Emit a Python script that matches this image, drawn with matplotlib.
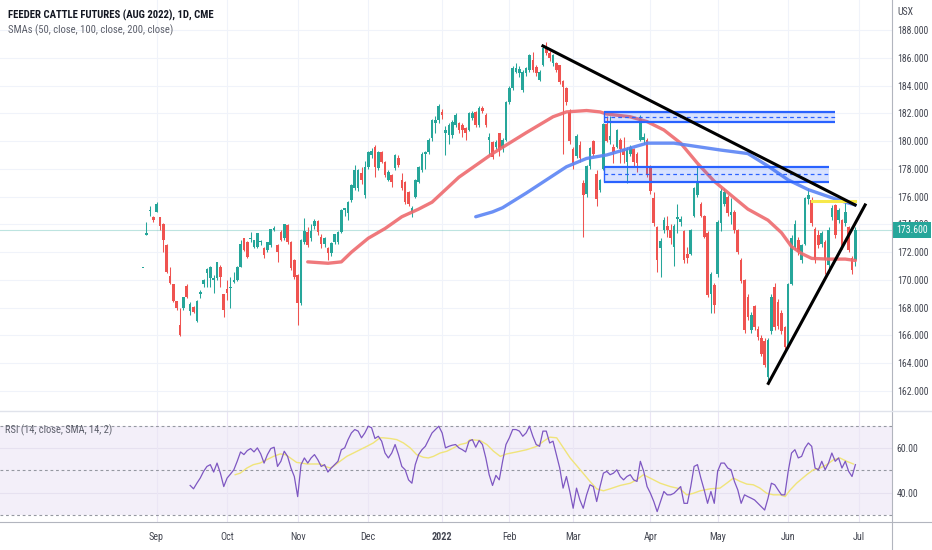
import numpy as np
import pandas as pd
import matplotlib
matplotlib.use('Agg')
import matplotlib.pyplot as plt
import matplotlib.transforms as mtransforms
from matplotlib.patches import Rectangle
from matplotlib.lines import Line2D
from matplotlib import font_manager

# pick a narrow face if one is installed (the chart uses a condensed font)
_fonts = font_manager.fontManager.ttflist
_names = {f.name for f in _fonts}
NARROW, STRETCH = None, 'normal'
for n in ['Liberation Sans Narrow', 'Roboto Condensed', 'Open Sans Condensed',
          'DejaVu Sans Condensed', 'Noto Sans Condensed']:
    if n in _names:
        NARROW = n
        break
if NARROW is None:
    cond = [f for f in _fonts if str(f.stretch) in ('condensed', 'semi-condensed')]
    if cond:
        NARROW, STRETCH = cond[0].name, cond[0].stretch
if NARROW is None:
    NARROW = 'Liberation Sans'
plt.rcParams['font.family'] = [NARROW, 'DejaVu Sans']
plt.rcParams['font.stretch'] = STRETCH

# trading days of the contract shown, CME holidays taken out
holidays = ['2021-09-06', '2021-11-25', '2021-12-24', '2022-01-17',
            '2022-02-21', '2022-04-15', '2022-05-30', '2022-06-20']
dates = pd.bdate_range('2021-08-26', '2022-06-30')
dates = dates[~dates.isin(pd.to_datetime(holidays))]

opens = [
    170.85, 173.25, 174.95, 174.55, 174.9, 174.5, 174.05, 172.5, 170.25, 169.7,
    168.5, 166.75, 167.95, 169.58, 167.78, 168.02, 167.03, 168.98, 169.68, 170.5,
    170.11, 170.0, 170.11, 170.95, 168.98, 169.34, 169.39, 169.87, 169.99, 170.95,
    172.99, 172.75, 172.92, 172.39, 172.39, 172.7, 172.27, 172.15, 172.51, 173.59,
    172.51, 173.47, 172.99, 173.95, 172.75, 171.43, 170.35, 168.31, 172.75, 173.47,
    172.99, 173.9, 174.24, 173.11, 172.58, 172.32, 171.91, 172.75, 172.75, 173.42,
    175.03, 174.79, 175.75, 176.59, 176.59, 177.68, 176.11, 178.15, 179.0, 179.6,
    178.03, 179.23, 178.5, 177.2, 177.55, 178.03, 178.75, 177.2, 177.07, 176.35,
    174.9, 175.99, 177.07, 177.91, 179.1, 179.23, 180.2, 181.3, 181.52, 182.07,
    180.6, 180.44, 180.44, 181.16, 181.28, 181.16, 180.92, 180.8, 181.64, 182.1,
    181.16, 182.4, 181.9, 180.1, 179.96, 179.6, 180.56, 179.48, 180.08, 182.84,
    183.8, 185.0, 184.88, 183.68, 184.88, 185.12, 185.84, 185.36, 184.4, 185.48,
    186.68, 186.32, 185.6, 185.6, 185.48, 184.3, 183.8, 182.1, 179.4, 178.9,
    179.7, 177.0, 176.2, 178.2, 180.0, 177.6, 176.5, 178.0, 181.2, 180.1,
    179.6, 179.6, 180.1, 179.4, 178.5, 179.1, 179.4, 179.1, 180.1, 180.1,
    180.1, 178.2, 175.9, 173.8, 172.3, 173.6, 173.9, 173.6, 172.4, 174.4,
    174.2, 173.5, 171.9, 171.9, 174.6, 176.1, 175.5, 174.6, 173.4, 169.0,
    169.6, 170.4, 174.1, 175.5, 176.0, 174.7, 174.9, 173.6, 171.4, 170.0,
    168.8, 166.4, 168.1, 166.5, 165.8, 165.6, 163.0, 166.3, 169.5, 168.4,
    167.6, 166.6, 165.2, 169.7, 172.4, 172.9, 171.4, 172.6, 175.8, 175.75,
    173.7, 173.2, 172.6, 172.75, 171.1, 174.55, 175.4, 174.3, 174.3, 174.1,
    173.8, 171.55, 171.4]
highs = [
    170.85, 174.15, 175.35, 174.6, 175.6, 174.5, 174.1, 172.6, 170.9, 169.7,
    168.5, 167.95, 168.8, 169.7, 168.43, 168.1, 168.55, 169.27, 170.1, 170.83,
    171.0, 170.35, 171.3, 171.1, 169.0, 169.99, 170.23, 170.6, 171.0, 172.87,
    173.0, 172.8, 173.47, 172.9, 173.4, 172.9, 172.4, 172.75, 173.7, 173.9,
    172.6, 173.6, 174.05, 174.0, 172.8, 171.5, 170.4, 172.95, 174.48, 173.8,
    174.0, 174.4, 174.3, 173.3, 173.1, 172.4, 172.7, 173.3, 173.5, 175.1,
    175.2, 175.7, 176.9, 178.3, 178.0, 178.1, 178.6, 179.3, 179.5, 179.7,
    179.3, 179.3, 178.6, 177.9, 177.6, 179.1, 179.0, 177.7, 177.1, 176.4,
    175.3, 177.3, 178.2, 179.2, 179.3, 180.2, 181.6, 181.8, 182.7, 182.3,
    181.1, 181.3, 181.5, 182.0, 181.4, 181.3, 181.0, 182.1, 182.2, 182.2,
    182.5, 182.5, 182.0, 180.6, 180.0, 180.1, 180.6, 180.2, 182.9, 184.0,
    185.4, 185.6, 185.4, 185.1, 185.3, 186.3, 186.44, 185.5, 185.1, 186.9,
    187.16, 186.5, 186.3, 185.7, 185.5, 184.4, 183.9, 182.3, 179.6, 180.5,
    180.0, 177.2, 178.3, 179.6, 180.1, 177.9, 177.3, 181.3, 181.8, 181.8,
    179.8, 180.9, 180.2, 180.3, 179.6, 179.7, 179.5, 179.2, 181.9, 180.6,
    180.2, 178.3, 176.3, 173.9, 173.0, 174.5, 174.6, 174.0, 174.0, 175.5,
    174.6, 173.6, 172.4, 173.7, 176.7, 178.3, 175.6, 174.7, 173.5, 170.6,
    169.8, 174.3, 176.6, 176.6, 176.1, 175.9, 175.0, 173.7, 171.6, 170.1,
    169.0, 167.7, 168.2, 166.7, 166.0, 165.8, 165.8, 169.0, 169.8, 168.6,
    167.8, 166.7, 169.8, 173.2, 174.3, 173.1, 172.6, 176.0, 176.6, 176.0,
    173.8, 173.6, 173.5, 172.9, 173.8, 175.4, 175.5, 175.2, 174.4, 175.6,
    173.9, 171.7, 173.8]
lows = [
    170.85, 173.2, 174.6, 174.2, 174.9, 173.6, 172.0, 170.5, 169.7, 168.4,
    167.8, 165.95, 167.85, 168.7, 167.47, 167.6, 167.0, 168.67, 169.5, 169.5,
    169.5, 169.03, 170.0, 169.5, 167.35, 168.55, 167.95, 169.75, 169.9, 170.9,
    172.1, 171.6, 172.75, 172.3, 172.3, 172.5, 171.6, 172.0, 172.4, 173.5,
    171.3, 172.8, 172.9, 172.6, 170.7, 170.1, 166.75, 168.2, 172.6, 172.4,
    172.8, 173.7, 173.2, 172.27, 172.4, 171.43, 171.7, 172.6, 172.6, 173.4,
    174.6, 174.3, 175.6, 176.5, 176.4, 176.9, 175.9, 178.0, 178.8, 177.43,
    177.9, 178.4, 177.4, 177.1, 176.7, 177.9, 178.1, 176.5, 175.5, 175.3,
    174.55, 175.9, 177.0, 177.8, 178.0, 179.1, 180.0, 180.6, 181.3, 181.6,
    179.0, 179.8, 180.2, 181.0, 180.6, 180.3, 180.1, 180.7, 181.5, 181.0,
    181.0, 182.0, 181.0, 179.0, 178.7, 179.4, 178.9, 179.2, 180.0, 182.7,
    183.7, 184.9, 184.6, 183.5, 184.7, 185.0, 185.0, 184.7, 184.3, 185.4,
    186.2, 185.8, 185.4, 185.0, 184.1, 179.1, 182.6, 179.8, 178.0, 178.8,
    178.5, 173.1, 176.0, 178.0, 178.9, 175.3, 176.3, 177.9, 179.9, 179.8,
    178.4, 179.5, 178.4, 178.4, 177.0, 178.9, 178.2, 177.8, 180.0, 179.8,
    177.4, 176.2, 173.9, 170.6, 170.2, 173.4, 173.1, 172.6, 171.0, 173.4,
    173.9, 171.2, 171.2, 171.8, 174.5, 176.0, 174.5, 173.0, 168.8, 167.6,
    167.6, 170.2, 173.5, 175.3, 174.6, 174.0, 173.4, 171.9, 169.8, 166.2,
    167.1, 166.2, 166.4, 165.7, 164.5, 163.7, 162.5, 166.1, 166.4, 166.5,
    166.1, 165.0, 165.1, 169.6, 172.2, 171.8, 171.2, 172.5, 175.5, 173.9,
    171.2, 172.3, 172.4, 170.4, 170.5, 174.3, 173.0, 174.1, 172.2, 173.9,
    172.0, 170.4, 171.0]
closes = [
    170.85, 173.4, 175.0, 174.3, 175.5, 173.85, 172.9, 170.6, 169.8, 168.5,
    167.95, 166.0, 168.74, 168.74, 168.26, 167.71, 168.5, 169.15, 169.99, 170.78,
    170.95, 170.11, 171.26, 170.18, 167.83, 169.03, 169.51, 169.99, 170.9, 172.58,
    172.15, 171.67, 172.99, 172.87, 173.35, 172.8, 171.79, 172.7, 173.64, 173.76,
    172.03, 172.87, 174.0, 172.75, 170.83, 170.23, 168.31, 172.87, 173.52, 172.51,
    173.52, 174.24, 173.42, 172.58, 172.99, 171.91, 172.63, 173.28, 173.47, 175.03,
    175.15, 175.63, 176.83, 177.92, 177.92, 177.2, 178.15, 179.23, 179.3, 178.15,
    179.23, 178.5, 177.55, 177.8, 177.03, 179.0, 178.27, 176.6, 175.63, 175.5,
    175.15, 177.19, 178.15, 179.1, 179.23, 180.07, 181.5, 181.55, 182.55, 181.88,
    180.8, 181.16, 181.4, 181.88, 180.8, 180.8, 180.56, 181.99, 182.04, 181.16,
    182.4, 182.16, 181.16, 180.32, 178.87, 179.96, 179.36, 180.08, 182.84, 183.8,
    185.24, 185.24, 185.17, 185.0, 185.24, 186.2, 185.12, 184.88, 185.0, 186.68,
    186.32, 185.96, 186.2, 185.12, 184.28, 183.9, 182.8, 180.0, 178.4, 180.35,
    178.8, 176.1, 178.2, 179.5, 179.1, 175.8, 177.2, 181.2, 180.0, 180.4,
    179.2, 180.8, 179.4, 179.0, 179.4, 179.6, 178.5, 178.4, 181.6, 180.3,
    177.6, 176.4, 174.1, 171.4, 172.8, 174.3, 173.6, 173.0, 173.9, 174.5,
    174.4, 171.4, 171.6, 173.6, 176.6, 176.95, 174.6, 173.1, 168.9, 170.4,
    168.2, 174.2, 176.4, 176.35, 174.8, 174.9, 173.6, 172.0, 169.9, 166.4,
    167.3, 167.5, 166.6, 165.9, 164.7, 163.9, 165.7, 168.8, 166.6, 166.7,
    166.3, 165.2, 169.7, 173.0, 174.0, 172.0, 172.5, 175.9, 176.1, 174.1,
    171.4, 172.5, 173.35, 171.4, 173.6, 175.15, 173.2, 175.0, 172.4, 174.9,
    172.15, 170.7, 173.6]

# moving averages (bar index, price)
sma50_x = [49, 55, 59, 62, 67, 72, 77, 82, 86, 94, 104, 114, 122, 126, 132, 136,
           138, 145, 150, 155, 160, 165, 170, 175, 180, 186, 190, 193, 196, 199,
           204, 209, 212]
sma50_y = [171.3, 171.2, 171.3, 172.0, 173.0, 173.7, 174.55, 175.1, 175.6, 177.4,
           179.1, 180.6, 181.75, 182.1, 182.2, 182.1, 181.95, 181.75, 181.4, 180.8,
           179.85, 178.4, 177.1, 176.1, 175.1, 174.3, 173.4, 172.4, 171.9, 171.55,
           171.5, 171.5, 171.4]
sma100_x = [99, 104, 107, 114, 120, 126, 132, 138, 145, 150, 158, 165, 172, 180,
            186, 192, 198, 204, 209, 212]
sma100_y = [174.55, 174.9, 175.2, 176.25, 177.2, 178.15, 178.75, 179.0, 179.5,
            179.85, 179.85, 179.6, 179.35, 179.1, 178.2, 177.2, 176.5, 176.0,
            175.6, 175.4]

# RSI(14), one value per bar from bar 14 on
rsi_start = 14
rsi_vals = [
    43.2, 41.7, 44.2, 46.5, 49.5, 51.7, 52.5, 49.2, 53.2, 48.7,
    42.7, 46.5, 48.3, 50.2, 54.0, 58.2, 57.0, 58.8, 59.7, 58.2,
    60.0, 57.3, 53.2, 57.0, 59.7, 60.3, 51.7, 54.0, 58.5, 56.2,
    51.0, 47.2, 38.2, 52.5, 55.5, 53.2, 55.5, 57.0, 54.7, 51.7,
    52.5, 49.2, 51.0, 52.5, 54.0, 59.2, 60.0, 63.7, 66.7, 68.2,
    67.5, 64.5, 66.7, 69.7, 69.0, 64.2, 65.2, 63.0, 57.7, 55.5,
    57.7, 61.5, 57.0, 51.7, 50.2, 45.7, 44.2, 52.5, 57.0, 59.2,
    60.7, 63.7, 66.7, 68.2, 69.7, 66.7, 60.0, 60.7, 61.2, 61.5,
    60.0, 59.2, 58.2, 63.0, 63.7, 60.3, 63.3, 61.5, 55.5, 48.0,
    43.2, 47.7, 45.7, 54.0, 61.5, 64.5, 68.2, 68.2, 67.5, 65.2,
    66.7, 69.7, 65.2, 61.5, 60.7, 67.5, 67.5, 62.2, 63.0, 57.0,
    51.0, 42.0, 47.2, 40.5, 33.0, 42.0, 36.7, 33.0, 39.0, 43.5,
    42.7, 36.0, 42.7, 48.7, 49.5, 48.0, 48.7, 50.2, 47.2, 45.7,
    47.2, 48.0, 45.7, 45.0, 54.0, 49.5, 42.7, 39.7, 36.0, 31.5,
    36.0, 40.5, 39.0, 39.0, 39.7, 41.2, 42.7, 35.2, 35.2, 42.7,
    51.7, 52.5, 46.5, 41.2, 35.2, 40.5, 35.2, 49.5, 53.2, 53.2,
    51.0, 50.2, 45.0, 41.2, 35.2, 39.0, 38.2, 37.5, 36.7, 35.2,
    33.7, 32.2, 37.5, 44.2, 43.5, 41.2, 39.0, 39.0, 49.5, 57.7,
    59.2, 55.5, 56.2, 60.0, 62.2, 60.7, 51.0, 50.2, 54.0, 50.2,
    53.2, 57.7, 54.0, 55.5, 51.0, 54.0, 49.5, 47.2, 52.5]
rsi_ma_x = [27.4, 28.9, 30.9, 32.8, 34.8, 36.8, 38.8, 40.8, 42.3, 43.8,
            45.7, 47.2, 48.7, 50.7, 52.7, 54.2, 55.7, 56.6, 58.6, 60.6,
            62.6, 64.6, 66.6, 68.5, 70.5, 71.5, 73.5, 75.5, 77.5, 79.5,
            81.4, 83.4, 84.9, 86.4, 88.4, 90.4, 92.4, 94.3, 96.3, 97.3,
            100.3, 102.3, 104.3, 106.3, 108.2, 111.2, 114.2, 117.2, 119.2, 121.1,
            123.1, 125.1, 127.1, 130.1, 133.0, 135.0, 137.0, 139.0, 142.0, 145.0,
            146.9, 148.9, 150.9, 153.9, 156.9, 159.8, 161.8, 163.8, 165.8, 168.8,
            171.7, 173.7, 175.7, 177.7, 179.7, 181.6, 183.6, 185.6, 187.6, 189.6,
            191.1, 192.6, 194.5, 197.5, 199.5, 201.5, 203.5, 205.5, 207.4, 209.4,
            211.4]
rsi_ma_vals = [48.0, 48.7, 51.0, 52.5, 53.2, 54.7, 56.2, 57.3, 57.0, 55.5,
               53.5, 53.2, 52.8, 52.8, 52.8, 51.7, 51.0, 51.7, 54.0, 56.2,
               57.7, 59.2, 60.7, 62.2, 64.5, 64.5, 64.2, 63.7, 62.2, 60.0,
               57.0, 55.8, 55.5, 56.2, 57.7, 58.5, 60.0, 61.5, 62.2, 63.7,
               63.3, 61.5, 58.5, 56.2, 57.3, 58.2, 59.2, 60.7, 63.0, 64.8,
               64.5, 60.0, 55.5, 50.2, 45.0, 41.7, 40.8, 41.7, 43.2, 44.2,
               45.7, 48.0, 46.5, 44.2, 42.7, 41.7, 39.0, 39.7, 40.8, 41.7,
               42.0, 44.2, 46.5, 45.0, 43.8, 43.5, 42.0, 39.7, 39.0, 39.0,
               38.2, 41.2, 44.2, 48.0, 50.2, 51.0, 52.5, 54.7, 55.5, 54.0,
               52.8]

# drawings on the chart
down_line_x, down_line_y = [119.0, 211.9], [186.85, 175.4]
up_line_x, up_line_y = [186.1, 214.9], [162.55, 175.4]
zones = [(137.2, 205.9, 181.39, 182.09), (137.2, 204.0, 177.07, 178.15)]
yellow_x, yellow_y = [199.0, 211.9], [175.65, 175.65]

month_labels = ['Sep', 'Oct', 'Nov', 'Dec', '2022', 'Feb', 'Mar', 'Apr', 'May', 'Jun', 'Jul']
price_ticks = list(range(162, 189, 2))

UP, DOWN = '#26a69a', '#ef5350'
GRID = '#f0f3fa'
TXT = '#434651'

o, h, l, c = map(np.array, (opens, highs, lows, closes))
x = np.arange(len(c))
cols = np.where(c >= o, UP, DOWN)

# first bar of each month; Jul falls just after the last bar
month_pos = [i for i in range(1, len(dates)) if dates[i].month != dates[i - 1].month]
month_pos = month_pos + [len(dates)]

fig = plt.figure(figsize=(9.32, 5.5), dpi=100)
renderer = fig.canvas.get_renderer()


def size_for(text, width_px, bold=False):
    # font size that makes `text` about width_px wide in the chosen face
    t = fig.text(0, 0, text, fontsize=10, fontweight='bold' if bold else 'normal')
    w = t.get_window_extent(renderer=renderer).width
    t.remove()
    return 10 * width_px / w


ax = fig.add_axes([0, 1 - 411 / 550, 892 / 932, 411 / 550])
axr = fig.add_axes([0, 1 - 522 / 550, 892 / 932, 111 / 550])

xlim = (-42.6, 222.9)
fs_axis = min(size_for('188.000', 31), 7.2)
fs_month = min(size_for('Sep', 15), 7.4)

# ---- price pane
for p in price_ticks:
    ax.axhline(p, color=GRID, lw=0.8, zorder=0)
for m in month_pos:
    ax.axvline(m, color=GRID, lw=0.8, zorder=0)

ax.axhline(c[-1], color=UP, lw=0.8, alpha=0.3, zorder=1)

ax.vlines(x, l, h, colors=cols, lw=0.75, zorder=2)
ax.bar(x, np.maximum(np.abs(c - o), 0.07), bottom=np.minimum(o, c), width=0.78,
       color=cols, lw=0, zorder=3)

ax.plot(sma50_x, sma50_y, color='#ee6a6e', lw=2.4, alpha=0.9, zorder=4,
        solid_capstyle='round')
ax.plot(sma100_x, sma100_y, color='#5b84f4', lw=2.4, alpha=0.9, zorder=4,
        solid_capstyle='round')

for x0, x1, y0, y1 in zones:
    ax.add_patch(Rectangle((x0, y0), x1 - x0, y1 - y0, facecolor='#2962ff',
                           alpha=0.18, lw=0, zorder=5))
    ax.hlines([y0, y1], x0, x1, color='#2962ff', lw=1.6, zorder=5)
    ax.vlines(x0, y0, y1, color='#2962ff', lw=1.0, zorder=5)
    ax.hlines((y0 + y1) / 2, x0, x1, color='#2962ff', lw=0.9,
              linestyles=(0, (3, 2.5)), zorder=5)

ax.plot(yellow_x, yellow_y, color='#f7e84a', lw=2.2, zorder=5)
ax.plot(down_line_x, down_line_y, color='black', lw=2.2, zorder=6)
ax.plot(up_line_x, up_line_y, color='black', lw=2.2, zorder=6)

ax.set_xlim(*xlim)
ax.set_ylim(160.56, 190.16)
ax.set_xticks([])
ax.yaxis.tick_right()
ax.set_yticks(price_ticks)
ax.set_yticklabels(['%.3f' % p for p in price_ticks])
ax.tick_params(axis='y', length=0, pad=3.5, labelsize=fs_axis, labelcolor=TXT)
for s in ax.spines.values():
    s.set_visible(False)

blend = mtransforms.blended_transform_factory(ax.transAxes, ax.transData)
ax.text(1.0045, c[-1], '%.3f' % c[-1], transform=blend, ha='left', va='center',
        fontsize=fs_axis, color='white', zorder=10, clip_on=False,
        bbox=dict(boxstyle='square,pad=0.3', fc=UP, ec='none'))

# ---- RSI pane
axr.axhspan(30, 70, color='#7e57c2', alpha=0.09, lw=0, zorder=0)
for v in (40, 60):
    axr.axhline(v, color='#e6e1f0', lw=0.8, zorder=1)
for m in month_pos:
    axr.axvline(m, color='#ebe6f5', lw=0.8, zorder=1)
for v in (30, 50, 70):
    axr.axhline(v, color='#9598a1', lw=0.8, ls=(0, (2.5, 2.5)), zorder=2)

axr.plot(rsi_ma_x, rsi_ma_vals, color='#f0e47a', lw=1.0, zorder=3)
axr.plot(np.arange(rsi_start, rsi_start + len(rsi_vals)), rsi_vals,
         color='#7e57c2', lw=0.9, zorder=4)

axr.set_xlim(*xlim)
axr.set_ylim(26.85, 76.5)
axr.yaxis.tick_right()
axr.set_yticks([40, 60])
axr.set_yticklabels(['40.00', '60.00'])
axr.tick_params(axis='y', length=0, pad=3.5, labelsize=fs_axis, labelcolor=TXT)
axr.set_xticks(month_pos)
axr.set_xticklabels(month_labels)
axr.tick_params(axis='x', length=0, pad=7, labelsize=fs_month, labelcolor=TXT)
axr.get_xticklabels()[4].set_fontweight('bold')
for s in axr.spines.values():
    s.set_visible(False)

# ---- frame lines and captions
fig.add_artist(Line2D([892 / 932] * 2, [0, 1], transform=fig.transFigure,
                      color='#b2b5be', lw=0.8))
fig.add_artist(Line2D([0, 1], [1 - 411 / 550] * 2, transform=fig.transFigure,
                      color='#e0e3eb', lw=1.0))
fig.add_artist(Line2D([0, 1], [1 - 522 / 550] * 2, transform=fig.transFigure,
                      color='#b2b5be', lw=0.8))

title = 'FEEDER CATTLE FUTURES (AUG 2022), 1D, CME'
sub = 'SMAs (50, close, 100, close, 200, close)'
rsi_title = 'RSI (14, close, SMA, 14, 2)'
fig.text(8 / 932, 1 - 15 / 550, title, fontsize=min(size_for(title, 205, True), 8.0),
         fontweight='bold', color='#131722', va='center')
fig.text(8 / 932, 1 - 30 / 550, sub, fontsize=min(size_for(sub, 165), 8.0),
         color='#5d606b', va='center')
fig.text(5 / 932, 1 - 430 / 550, rsi_title, fontsize=min(size_for(rsi_title, 110), 7.6),
         color='#5d606b', va='center')
fig.text(897 / 932, 1 - 12 / 550, 'USX', fontsize=fs_axis, color=TXT, va='center')

fig.savefig('out.png', dpi=100, facecolor='white')
